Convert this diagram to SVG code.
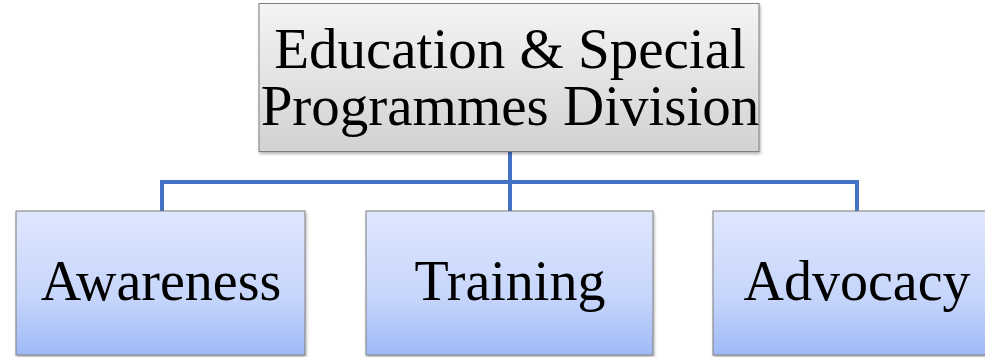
<svg xmlns="http://www.w3.org/2000/svg" width="985" height="357" viewBox="0 0 985 357">
<defs>
<linearGradient id="gray" x1="0" y1="0" x2="0" y2="1">
<stop offset="0" stop-color="#f4f4f4"/>
<stop offset="1" stop-color="#d2d2d2"/>
</linearGradient>
<linearGradient id="blue" x1="0" y1="0" x2="0" y2="1">
<stop offset="0" stop-color="#dfe7fe"/>
<stop offset="0.6" stop-color="#c6d5fb"/>
<stop offset="1" stop-color="#9fbaf6"/>
</linearGradient>
<filter id="sh" x="-5%" y="-5%" width="110%" height="115%">
<feDropShadow dx="1" dy="2" stdDeviation="1.5" flood-color="#000" flood-opacity="0.3"/>
</filter>
</defs>
<style>
.box{stroke:#7f7f7f;stroke-width:1;filter:url(#sh)}
.t{font-family:"Liberation Serif","Times New Roman",serif;fill:#000;text-anchor:middle}
.c{fill:none;stroke:#4472c4;stroke-width:4}
</style>
<rect width="985" height="357" fill="#fff"/>
<g id="connectors">
<path class="c" d="M510 152V211M162 211V182H857V211"/>
</g>
<g id="top">
<rect class="box" x="259" y="3.5" width="500" height="148" fill="url(#gray)"/>
<text class="t" x="510" y="68" font-size="57">Education &amp; Special</text>
<text class="t" x="510" y="125" font-size="57">Programmes Division</text>
</g>
<g id="awareness">
<rect class="box" x="16" y="211" width="289" height="144" fill="url(#blue)"/>
<text class="t" x="161" y="300" font-size="56">Awareness</text>
</g>
<g id="training">
<rect class="box" x="366" y="211" width="287" height="144" fill="url(#blue)"/>
<text class="t" x="510" y="300" font-size="56">Training</text>
</g>
<g id="advocacy">
<rect class="box" x="713" y="211" width="290" height="144" fill="url(#blue)"/>
<text class="t" x="857" y="300" font-size="56">Advocacy</text>
</g>
</svg>
